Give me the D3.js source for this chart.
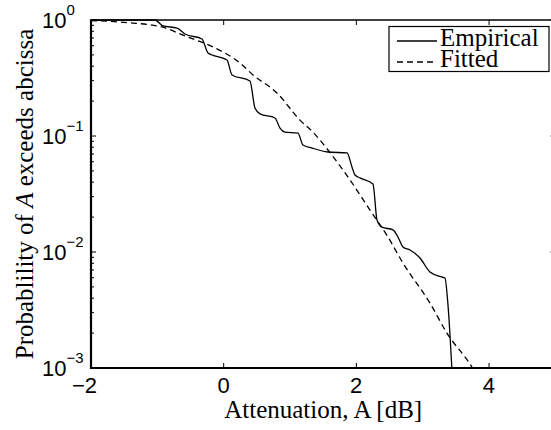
<!DOCTYPE html>
<html>
<head>
<meta charset="utf-8">
<script src="https://cdn.jsdelivr.net/npm/d3@7"></script>
<style>
  body { margin: 0; background: #fff; }
  svg { display: block; }
</style>
</head>
<body>
<svg id="chart" width="551" height="430"></svg>
<script>
// attenuation values (dB) and exceedance probabilities
var empiricalA = [-2, -1.035, -0.915, -0.704, -0.583, -0.327, -0.236, 0.050, 0.125, 0.396, 0.472, 0.547,
  0.773, 0.849, 0.924, 1.120, 1.195, 1.331, 1.572, 1.859, 1.934, 1.979, 2.054, 2.250, 2.311, 2.386,
  2.552, 2.627, 2.702, 2.808, 2.959, 3.109, 3.290, 3.335, 3.381, 3.441];
var empiricalP = [1, 1, 0.888, 0.853, 0.757, 0.686, 0.519, 0.452, 0.336, 0.298, 0.174, 0.155,
  0.143, 0.117, 0.108, 0.106, 0.0836, 0.0788, 0.0728, 0.0714, 0.054, 0.0461, 0.0435, 0.0386, 0.0189, 0.0164,
  0.0155, 0.01347, 0.01104, 0.0104, 0.00887, 0.00673, 0.00609, 0.00597, 0.00349, 0.00095];

var fittedA = [-2, -1.442, -0.930, -0.583, -0.161, 0.246, 0.442, 0.803, 1.150, 1.346, 1.572, 1.904,
  2.205, 2.476, 2.702, 3.109, 3.365, 3.742, 3.85];
var fittedP = [0.990, 0.948, 0.871, 0.728, 0.585, 0.426, 0.336, 0.235, 0.137, 0.108, 0.0757, 0.0418,
  0.0230, 0.01347, 0.00804, 0.00363, 0.00200, 0.00102, 0.0008];

var xTicks = [-2, 0, 2, 4, 5];
var yTicks = [1e-3, 1e-2, 1e-1, 1];
var yExponents = ["\u22123", "\u22122", "\u22121", "0"];
var legendNames = ["Empirical", "Fitted"];

var svg = d3.select("#chart");
var plotL = 91, plotT = 20, plotR = 555.4, plotB = 368;

var x = d3.scaleLinear().domain([-2, 5]).range([plotL, plotR]);
var y = d3.scaleLog().domain([1e-3, 1]).range([plotB, plotT]);

svg.append("defs").append("clipPath").attr("id", "plotclip")
  .append("rect").attr("x", plotL).attr("y", plotT - 1)
  .attr("width", plotR - plotL).attr("height", plotB - plotT + 1);

// minor log ticks 2..9 in every decade
var minor = [];
[1e-3, 1e-2, 1e-1].forEach(function (d) {
  for (var k = 2; k <= 9; k++) minor.push(d * k);
});

var ticks = svg.append("g").attr("stroke", "#000").attr("stroke-width", 1);
minor.forEach(function (v) {
  ticks.append("line").attr("x1", plotL).attr("x2", plotL + 3).attr("y1", y(v)).attr("y2", y(v));
  ticks.append("line").attr("x1", plotR).attr("x2", plotR - 3).attr("y1", y(v)).attr("y2", y(v));
});
yTicks.forEach(function (v) {
  ticks.append("line").attr("x1", plotL).attr("x2", plotL + 5).attr("y1", y(v)).attr("y2", y(v));
  ticks.append("line").attr("x1", plotR).attr("x2", plotR - 5).attr("y1", y(v)).attr("y2", y(v));
});
xTicks.forEach(function (v) {
  ticks.append("line").attr("x1", x(v)).attr("x2", x(v)).attr("y1", plotB).attr("y2", plotB - 5);
  ticks.append("line").attr("x1", x(v)).attr("x2", x(v)).attr("y1", plotT).attr("y2", plotT + 5);
});

// data lines
var plot = svg.append("g").attr("clip-path", "url(#plotclip)");

var empLine = d3.line()
  .x(function (d, i) { return x(empiricalA[i]); })
  .y(function (d, i) { return y(empiricalP[i]); })
  .curve(d3.curveMonotoneX);
var fitLine = d3.line()
  .x(function (d, i) { return x(fittedA[i]); })
  .y(function (d, i) { return y(fittedP[i]); })
  .curve(d3.curveMonotoneX);

plot.append("path").attr("d", fitLine(fittedA))
  .attr("fill", "none").attr("stroke", "#000").attr("stroke-width", 1.3)
  .attr("stroke-dasharray", "6,4");
plot.append("path").attr("d", empLine(empiricalA))
  .attr("fill", "none").attr("stroke", "#000").attr("stroke-width", 1.3);

// box
svg.append("line").attr("x1", plotL).attr("x2", plotR).attr("y1", plotT).attr("y2", plotT)
  .attr("stroke", "#000").attr("stroke-width", 1.4);
svg.append("line").attr("x1", plotL).attr("x2", plotR).attr("y1", plotB).attr("y2", plotB)
  .attr("stroke", "#000").attr("stroke-width", 2.2);
svg.append("line").attr("x1", plotL).attr("x2", plotL).attr("y1", plotT - 0.7).attr("y2", plotB + 1.1)
  .attr("stroke", "#000").attr("stroke-width", 2.2);

// tick labels
var tickFont = "'Liberation Sans', Arial, sans-serif";
xTicks.filter(function (v) { return x(v) < 551; }).forEach(function (v) {
  svg.append("text")
    .attr("x", x(v) + 6).attr("y", plotB + 25)
    .attr("text-anchor", "end")
    .style("font-family", tickFont).style("font-size", "22px")
    .text(v < 0 ? "\u2212" + Math.abs(v) : v);
});
yTicks.forEach(function (v, i) {
  var t = svg.append("text")
    .attr("x", 42).attr("y", y(v) + 8)
    .style("font-family", tickFont).style("font-size", "22px");
  t.append("tspan").text("10");
  t.append("tspan").attr("dy", -13).style("font-size", "15px").text(yExponents[i]);
});

// axis titles
var titleFont = "'Liberation Serif', 'Times New Roman', serif";
svg.append("text")
  .attr("x", (plotL + plotR) / 2).attr("y", 418)
  .attr("text-anchor", "middle")
  .style("font-family", titleFont).style("font-size", "25px")
  .text("Attenuation, A [dB]");

var yl = svg.append("text")
  .attr("transform", "translate(33," + ((plotT + plotB) / 2) + ") rotate(-90)")
  .attr("text-anchor", "middle")
  .style("font-family", titleFont).style("font-size", "25px");
yl.append("tspan").text("Probablility of ");
yl.append("tspan").style("font-style", "italic").text("A");
yl.append("tspan").text(" exceeds abcissa");

// legend
var lg = svg.append("g");
lg.append("rect").attr("x", 389).attr("y", 26.5).attr("width", 160).attr("height", 45)
  .attr("fill", "#fff").attr("stroke", "#000").attr("stroke-width", 1.2);
legendNames.forEach(function (name, i) {
  var ly = 41 + i * 21;
  lg.append("line").attr("x1", 397).attr("x2", 437).attr("y1", ly).attr("y2", ly)
    .attr("stroke", "#000").attr("stroke-width", 1.3)
    .attr("stroke-dasharray", i === 1 ? "6,4" : null);
  lg.append("text").attr("x", 440).attr("y", ly + 5)
    .style("font-family", titleFont).style("font-size", "25px")
    .text(name);
});
</script>
</body>
</html>
